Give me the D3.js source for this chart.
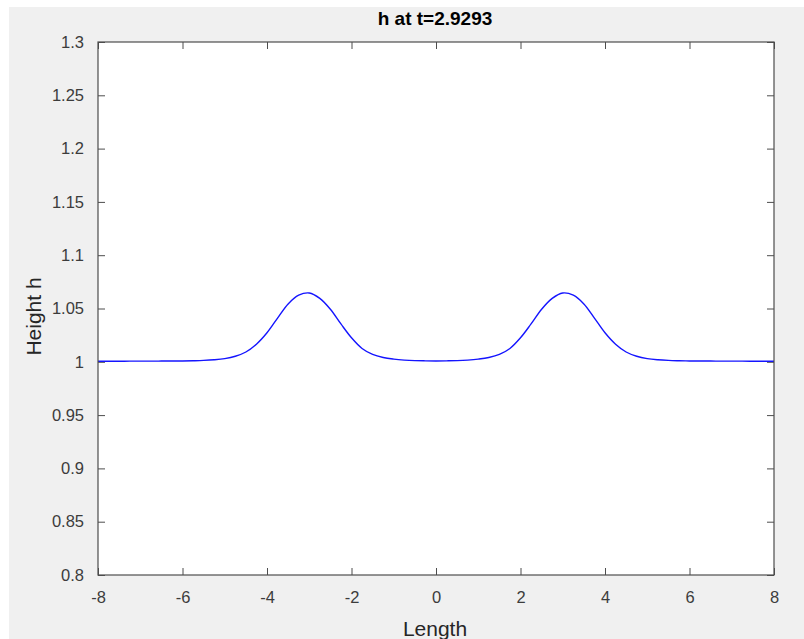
<!DOCTYPE html>
<html>
<head>
<meta charset="utf-8">
<script src="https://cdn.jsdelivr.net/npm/d3@7"></script>
<style>
  html, body { margin: 0; padding: 0; background: #ffffff; }
  svg { display: block; }
  text { font-family: "Liberation Sans", Arial, Helvetica, sans-serif; }
</style>
</head>
<body>
<svg id="chart" width="804" height="639"></svg>
<script>
// ---- data ----
const xValues = [
  -8, -7.75, -7.5, -7.25, -7, -6.75, -6.5, -6.25, -6, -5.75, -5.5, -5.25, -5, -4.75, -4.5, -4.25,
  -4, -3.75, -3.5, -3.25, -3, -2.75, -2.5, -2.25, -2, -1.75, -1.5, -1.25, -1, -0.75, -0.5, -0.25,
  0, 0.25, 0.5, 0.75, 1, 1.25, 1.5, 1.75, 2, 2.25, 2.5, 2.75, 3, 3.25, 3.5, 3.75,
  4, 4.25, 4.5, 4.75, 5, 5.25, 5.5, 5.75, 6, 6.25, 6.5, 6.75, 7, 7.25, 7.5, 7.75, 8
];
const hValues = [
  1.0005, 1.0005, 1.0005, 1.0006, 1.0006, 1.0006, 1.0007, 1.0007, 1.0008, 1.0010, 1.0013, 1.0019, 1.0030, 1.0052, 1.0092, 1.0165,
  1.0272, 1.0410, 1.0543, 1.0625, 1.0646, 1.0595, 1.0493, 1.0355, 1.0225, 1.0125, 1.0069, 1.0040, 1.0025, 1.0016, 1.0011, 1.0009,
  1.0008, 1.0009, 1.0011, 1.0016, 1.0025, 1.0040, 1.0069, 1.0125, 1.0225, 1.0355, 1.0493, 1.0595, 1.0646, 1.0625, 1.0543, 1.0410,
  1.0272, 1.0165, 1.0092, 1.0052, 1.0030, 1.0019, 1.0013, 1.0010, 1.0008, 1.0007, 1.0007, 1.0006, 1.0006, 1.0006, 1.0005, 1.0005, 1.0005
];
const xTicks = [-8, -6, -4, -2, 0, 2, 4, 6, 8];
const yTicks = [0.8, 0.85, 0.9, 0.95, 1, 1.05, 1.1, 1.15, 1.2, 1.25, 1.3];
const titleText = "h at t=2.9293";
const xLabelText = "Length";
const yLabelText = "Height h";

// ---- layout ----
const svg = d3.select("#chart");
const W = 804, H = 639;
const plot = { left: 98, top: 42, right: 774, bottom: 575 };
const axisColor = "#4d4d4d";
const textColor = "#3c3c3c";

svg.append("rect").attr("x", 9).attr("y", 7).attr("width", W - 9).attr("height", H - 7).attr("fill", "#f0f0f0");
svg.append("rect").attr("x", plot.left).attr("y", plot.top)
  .attr("width", plot.right - plot.left).attr("height", plot.bottom - plot.top).attr("fill", "#ffffff");

const x = d3.scaleLinear().domain([-8, 8]).range([plot.left, plot.right]);
const y = d3.scaleLinear().domain([0.8, 1.3]).range([plot.bottom, plot.top]);

const fmt = d => String(+d.toFixed(2));
const tickLen = 7;

function styleAxis(g, showLabels) {
  g.select(".domain").remove();
  g.selectAll(".tick line").attr("stroke", axisColor).attr("stroke-width", 1);
  g.selectAll(".tick text").attr("fill", textColor).style("font-size", "16.5px")
    .style("font-family", "'Liberation Sans', Arial, sans-serif");
  if (!showLabels) g.selectAll(".tick text").remove();
}

// bottom axis (ticks inward)
const gx = svg.append("g").attr("transform", `translate(0,${plot.bottom})`)
  .call(d3.axisBottom(x).tickValues(xTicks).tickFormat(fmt).tickSizeInner(-tickLen).tickSizeOuter(0).tickPadding(tickLen + 9));
styleAxis(gx, true);
// top axis
const gxt = svg.append("g").attr("transform", `translate(0,${plot.top})`)
  .call(d3.axisTop(x).tickValues(xTicks).tickSizeInner(-tickLen).tickSizeOuter(0));
styleAxis(gxt, false);
// left axis
const gy = svg.append("g").attr("transform", `translate(${plot.left},0)`)
  .call(d3.axisLeft(y).tickValues(yTicks).tickFormat(fmt).tickSizeInner(-tickLen).tickSizeOuter(0).tickPadding(tickLen + 7));
styleAxis(gy, true);
// right axis
const gyr = svg.append("g").attr("transform", `translate(${plot.right},0)`)
  .call(d3.axisRight(y).tickValues(yTicks).tickSizeInner(-tickLen).tickSizeOuter(0));
styleAxis(gyr, false);

// data line
const data = xValues.map((v, i) => ({ x: v, h: hValues[i] }));
svg.append("path").datum(data)
  .attr("fill", "none").attr("stroke", "#1414ff").attr("stroke-width", 1.4)
  .attr("d", d3.line().x(d => x(d.x)).y(d => y(d.h)).curve(d3.curveCatmullRom.alpha(0.5)));

// box
svg.append("rect").attr("x", plot.left).attr("y", plot.top)
  .attr("width", plot.right - plot.left).attr("height", plot.bottom - plot.top)
  .attr("fill", "none").attr("stroke", axisColor).attr("stroke-width", 1.2);

// title and labels
svg.append("text").attr("x", (plot.left + plot.right) / 2 - 1).attr("y", 25)
  .attr("text-anchor", "middle").attr("fill", "#000").style("font-size", "19px").style("font-weight", "bold")
  .text(titleText);
svg.append("text").attr("x", (plot.left + plot.right) / 2 - 1).attr("y", 636)
  .attr("text-anchor", "middle").attr("fill", "#262626").style("font-size", "21px")
  .text(xLabelText);
svg.append("text").attr("transform", `translate(41,${(plot.top + plot.bottom) / 2 + 8}) rotate(-90)`)
  .attr("text-anchor", "middle").attr("fill", "#262626").style("font-size", "21px")
  .text(yLabelText);
</script>
</body>
</html>
